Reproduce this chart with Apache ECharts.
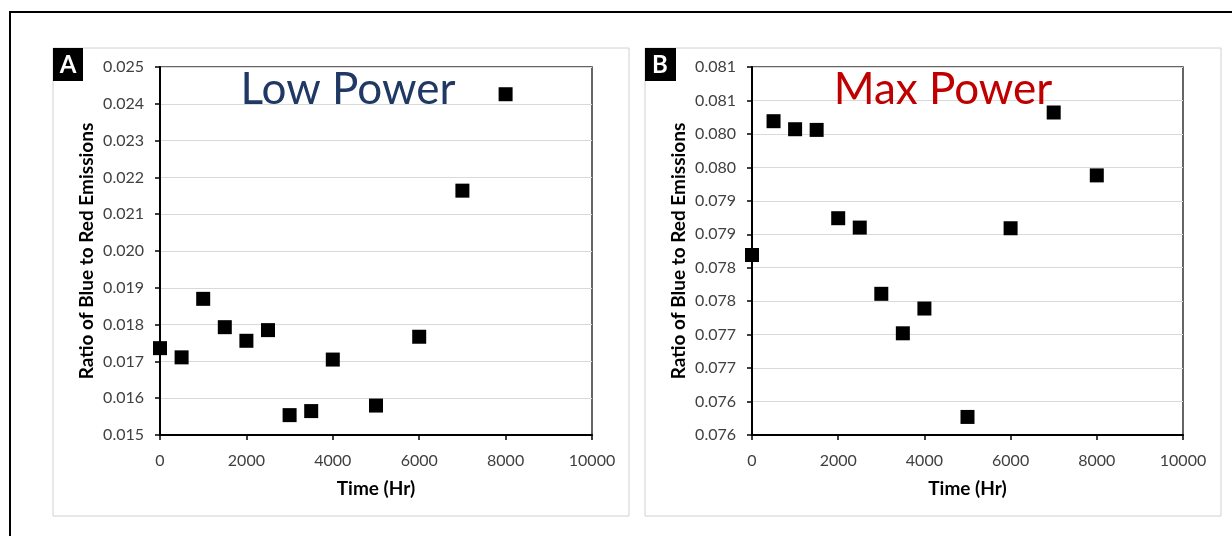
<!DOCTYPE html>
<html lang="en">
<head>
  <meta charset="UTF-8">
  <script src="https://cdn.jsdelivr.net/npm/echarts@6/dist/echarts.min.js"></script>
  <title>blue to red ratio</title>
</head>
<style>
  html, body { margin: 0; height: 100%; background: #fff; }
  #chart { width: 1232px; height: 536px; }
</style>
<body>
  <div id="chart"></div>
  <script type="text/javascript">
    // time in hours (same for both panels)
    var timeHr = [0, 500, 1000, 1500, 2000, 2500, 3000, 3500, 4000, 5000, 6000, 7000, 8000];
    // panel A - low power
    var lowPower = [0.01736, 0.01711, 0.01870, 0.01793, 0.01756, 0.01785, 0.01554, 0.01565, 0.01705, 0.01580, 0.01767, 0.02164, 0.02426];
    // panel B - max power
    var maxPower = [0.07819, 0.08019, 0.08007, 0.08006, 0.07874, 0.07860, 0.07761, 0.07702, 0.07739, 0.07577, 0.07859, 0.08032, 0.07938];

    var font = 'Lato, "Open Sans", sans-serif';

    function pairs(xs, ys) {
      return xs.map(function (x, i) { return [x, ys[i]]; });
    }
    // excel-style 3 decimal labels (half up)
    function fmt3(v) {
      return (Math.round(v * 1000 + 1e-6) / 1000).toFixed(3);
    }

    function xAxisCfg(grid) {
      return {
        gridIndex: grid, type: 'value', min: 0, max: 10000, interval: 2000,
        name: 'Time (Hr)', nameLocation: 'middle', nameGap: 44,
        nameTextStyle: { fontFamily: font, fontWeight: 'bold', fontSize: 19, color: '#000' },
        axisLine: { onZero: false, lineStyle: { color: '#000', width: 2 } },
        axisTick: { show: true, length: 5, lineStyle: { color: '#000', width: 1.5 } },
        axisLabel: { fontFamily: font, fontSize: 16, color: '#404040', margin: 18,
          formatter: function (v) { return String(v); } },
        splitLine: { show: false }
      };
    }
    function yAxisCfg(grid, min, max, step) {
      return {
        gridIndex: grid, type: 'value', min: min, max: max, interval: step,
        name: 'Ratio of Blue to Red Emissions', nameLocation: 'middle', nameGap: 64,
        nameTextStyle: { fontFamily: font, fontWeight: 'bold', fontSize: 19, color: '#000' },
        axisLine: { onZero: false, lineStyle: { color: '#000', width: 2 } },
        axisTick: { show: true, length: 5, lineStyle: { color: '#000', width: 1.5 } },
        axisLabel: { fontFamily: font, fontSize: 16, color: '#404040', margin: 16, formatter: fmt3 },
        splitLine: { show: true, lineStyle: { color: '#d9d9d9', width: 1 } }
      };
    }

    var chart = echarts.init(document.getElementById('chart'));
    var option = {
      backgroundColor: '#fff',
      animation: false,
      title: [
        { text: 'Low Power', left: 343, top: 63, textAlign: 'center',
          textStyle: { fontFamily: font, fontWeight: 'normal', fontSize: 44, color: '#203864' } },
        { text: 'Max Power', left: 938, top: 63, textAlign: 'center',
          textStyle: { fontFamily: font, fontWeight: 'normal', fontSize: 44, color: '#c00000' } }
      ],
      grid: [
        { left: 160, top: 67, width: 432, height: 368, show: true, borderColor: '#333', borderWidth: 1.5 },
        { left: 752, top: 67, width: 431, height: 368, show: true, borderColor: '#333', borderWidth: 1.5 }
      ],
      xAxis: [xAxisCfg(0), xAxisCfg(1)],
      yAxis: [yAxisCfg(0, 0.015, 0.025, 0.001), yAxisCfg(1, 0.0755, 0.0810, 0.0005)],
      series: [
        { type: 'scatter', xAxisIndex: 0, yAxisIndex: 0, symbol: 'rect', symbolSize: 14,
          itemStyle: { color: '#000', opacity: 1 }, data: pairs(timeHr, lowPower) },
        { type: 'scatter', xAxisIndex: 1, yAxisIndex: 1, symbol: 'rect', symbolSize: 14,
          itemStyle: { color: '#000', opacity: 1 }, data: pairs(timeHr, maxPower) }
      ],
      graphic: [
        // outer frame
        { type: 'rect', z: -10, shape: { x: 10, y: 12, width: 1240, height: 540 },
          style: { fill: 'none', stroke: '#000', lineWidth: 2 } },
        // panel boxes
        { type: 'rect', z: -9, shape: { x: 53, y: 48, width: 576, height: 468 },
          style: { fill: '#fff', stroke: '#d0d0d0', lineWidth: 1 } },
        { type: 'rect', z: -9, shape: { x: 645, y: 48, width: 576, height: 468 },
          style: { fill: '#fff', stroke: '#d0d0d0', lineWidth: 1 } },
        // panel letters
        { type: 'rect', shape: { x: 53, y: 48, width: 30, height: 33 }, style: { fill: '#000' } },
        { type: 'text', x: 68, y: 65, style: { text: 'A', fill: '#fff', font: 'bold 24px ' + font,
          align: 'center', verticalAlign: 'middle' } },
        { type: 'rect', shape: { x: 645, y: 48, width: 31, height: 33 }, style: { fill: '#000' } },
        { type: 'text', x: 660, y: 65, style: { text: 'B', fill: '#fff', font: 'bold 24px ' + font,
          align: 'center', verticalAlign: 'middle' } }
      ]
    };
    chart.setOption(option);
  </script>
</body>
</html>
